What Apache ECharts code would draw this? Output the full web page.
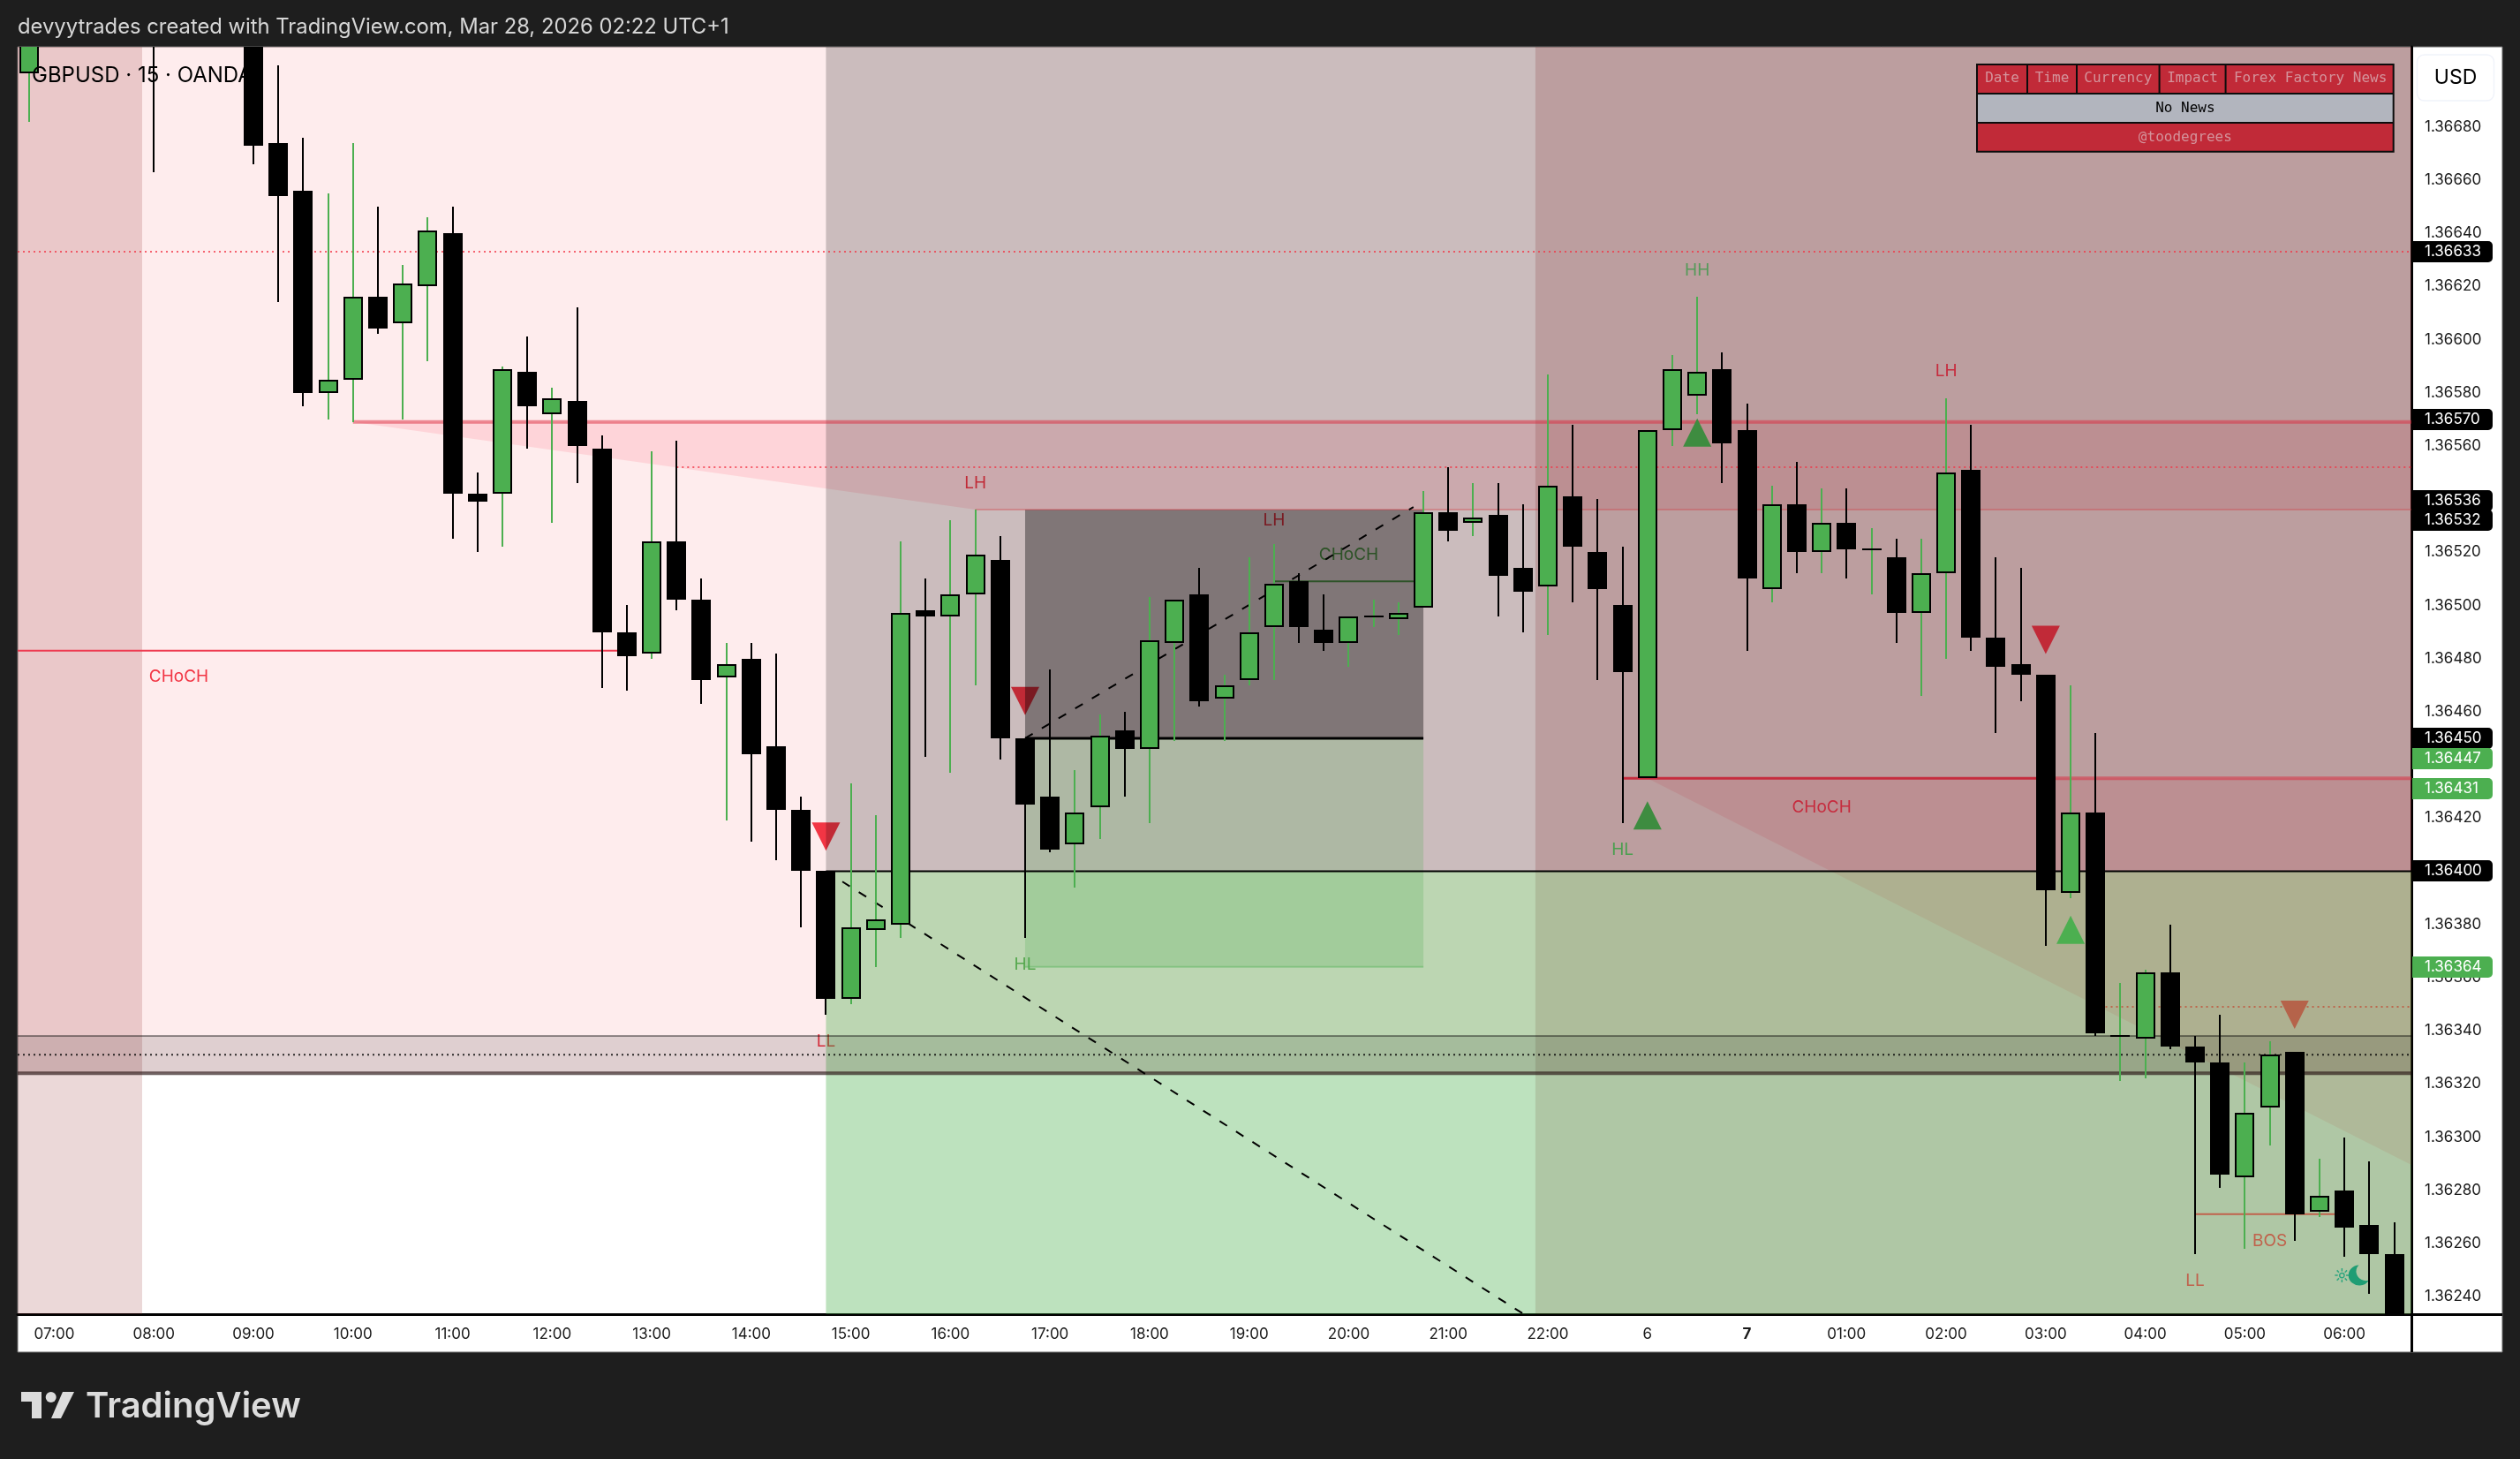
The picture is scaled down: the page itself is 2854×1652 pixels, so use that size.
<!DOCTYPE html>
<html>
<head>
<meta charset="utf-8">
<title>GBPUSD 15</title>
<style>
  html, body { margin: 0; padding: 0; background: #1e1e1e; }
  #chart { width: 2854px; height: 1652px; }
</style>
<script src="https://cdn.jsdelivr.net/npm/echarts@6/dist/echarts.min.js"></script>
</head>
<body>
<div id="chart"></div>
<script>
// bars are 15 min, bar 0 = 06:45. null = bar sits above the visible range
const opens = [1.36700, null, null, null, null, 1.36720, null, null, null, 1.36730,
  1.36674, 1.36656, 1.36580, 1.36585, 1.36616, 1.36606, 1.36620, 1.36640, 1.36542, 1.36542,
  1.36588, 1.36572, 1.36577, 1.36559, 1.36490, 1.36482, 1.36524, 1.36502, 1.36473, 1.36480,
  1.36447, 1.36423, 1.36400, 1.36352, 1.36378, 1.36380, 1.36498, 1.36496, 1.36504, 1.36517,
  1.36450, 1.36428, 1.36410, 1.36424, 1.36453, 1.36446, 1.36486, 1.36504, 1.36465, 1.36472,
  1.36492, 1.36509, 1.36491, 1.36486, 1.36496, 1.36495, 1.36499, 1.36535, 1.36531, 1.36534,
  1.36514, 1.36507, 1.36541, 1.36520, 1.36500, 1.36435, 1.36566, 1.36579, 1.36589, 1.36566,
  1.36506, 1.36538, 1.36520, 1.36531, 1.36521, 1.36518, 1.36497, 1.36512, 1.36551, 1.36488,
  1.36478, 1.36474, 1.36392, 1.36422, 1.36338, 1.36337, 1.36362, 1.36334, 1.36328, 1.36285,
  1.36311, 1.36332, 1.36272, 1.36280, 1.36267, 1.36256];
const highs = [1.36716, null, null, null, null, 1.36725, null, null, null, 1.36735,
  1.36703, 1.36676, 1.36655, 1.36674, 1.36650, 1.36628, 1.36646, 1.36650, 1.36550, 1.36590,
  1.36601, 1.36582, 1.36612, 1.36564, 1.36500, 1.36558, 1.36562, 1.36510, 1.36486, 1.36486,
  1.36482, 1.36428, 1.36400, 1.36433, 1.36421, 1.36524, 1.36510, 1.36532, 1.36536, 1.36526,
  1.36450, 1.36476, 1.36438, 1.36459, 1.36460, 1.36503, 1.36502, 1.36514, 1.36474, 1.36518,
  1.36523, 1.36512, 1.36504, 1.36496, 1.36502, 1.36501, 1.36543, 1.36552, 1.36546, 1.36546,
  1.36538, 1.36587, 1.36568, 1.36540, 1.36522, 1.36566, 1.36594, 1.36616, 1.36595, 1.36576,
  1.36545, 1.36554, 1.36544, 1.36544, 1.36529, 1.36525, 1.36525, 1.36578, 1.36568, 1.36518,
  1.36514, 1.36474, 1.36470, 1.36452, 1.36358, 1.36363, 1.36380, 1.36338, 1.36346, 1.36328,
  1.36336, 1.36332, 1.36292, 1.36300, 1.36291, 1.36268];
const lows = [1.36682, null, null, null, null, 1.36663, null, null, null, 1.36666,
  1.36614, 1.36575, 1.36570, 1.36569, 1.36602, 1.36570, 1.36592, 1.36525, 1.36520, 1.36522,
  1.36559, 1.36531, 1.36546, 1.36469, 1.36468, 1.36480, 1.36498, 1.36463, 1.36419, 1.36411,
  1.36404, 1.36379, 1.36346, 1.36350, 1.36364, 1.36375, 1.36443, 1.36437, 1.36470, 1.36442,
  1.36375, 1.36407, 1.36394, 1.36412, 1.36428, 1.36418, 1.36449, 1.36462, 1.36449, 1.36470,
  1.36472, 1.36486, 1.36483, 1.36477, 1.36492, 1.36489, 1.36499, 1.36524, 1.36526, 1.36496,
  1.36490, 1.36489, 1.36501, 1.36472, 1.36418, 1.36435, 1.36560, 1.36572, 1.36546, 1.36483,
  1.36501, 1.36512, 1.36512, 1.36510, 1.36504, 1.36486, 1.36466, 1.36480, 1.36483, 1.36452,
  1.36464, 1.36372, 1.36390, 1.36338, 1.36321, 1.36322, 1.36333, 1.36256, 1.36281, 1.36258,
  1.36297, 1.36261, 1.36270, 1.36255, 1.36241, 1.36220];
const closes = [1.36712, null, null, null, null, 1.36712, null, null, null, 1.36673,
  1.36654, 1.36580, 1.36585, 1.36616, 1.36604, 1.36621, 1.36641, 1.36542, 1.36539, 1.36589,
  1.36575, 1.36578, 1.36560, 1.36490, 1.36481, 1.36524, 1.36502, 1.36472, 1.36478, 1.36444,
  1.36423, 1.36400, 1.36352, 1.36379, 1.36382, 1.36497, 1.36496, 1.36504, 1.36519, 1.36450,
  1.36425, 1.36408, 1.36422, 1.36451, 1.36446, 1.36487, 1.36502, 1.36464, 1.36470, 1.36490,
  1.36508, 1.36492, 1.36486, 1.36496, 1.36496, 1.36497, 1.36535, 1.36528, 1.36533, 1.36511,
  1.36505, 1.36545, 1.36522, 1.36506, 1.36475, 1.36566, 1.36589, 1.36588, 1.36561, 1.36510,
  1.36538, 1.36520, 1.36531, 1.36521, 1.36521, 1.36497, 1.36512, 1.36550, 1.36488, 1.36477,
  1.36474, 1.36393, 1.36422, 1.36339, 1.36338, 1.36362, 1.36334, 1.36328, 1.36286, 1.36309,
  1.36331, 1.36271, 1.36278, 1.36266, 1.36256, 1.36228];

const priceTicks = [1.3624, 1.3626, 1.3628, 1.3630, 1.3632, 1.3634, 1.3636, 1.3638, 1.3640, 1.3642, 1.3644, 1.3646,
  1.3648, 1.3650, 1.3652, 1.3654, 1.3656, 1.3658, 1.3660, 1.3662, 1.3664, 1.3666, 1.3668];
const timeTickBars = [1, 5, 9, 13, 17, 21, 25, 29, 33, 37, 41, 45, 49, 53, 57, 61, 65, 69, 73, 77, 81, 85, 89, 93];
const timeTickLabels = ['07:00', '08:00', '09:00', '10:00', '11:00', '12:00', '13:00', '14:00', '15:00', '16:00', '17:00', '18:00',
  '19:00', '20:00', '21:00', '22:00', '6', '7', '01:00', '02:00', '03:00', '04:00', '05:00', '06:00'];

const tagPrices = [1.36633, 1.36570, 1.36536, 1.36532, 1.36450, 1.36447, 1.36431, 1.36400, 1.36364];
const tagGreen = [false, false, false, false, false, true, true, false, true];

const signalBars = [32, 40, 65, 67, 81, 82, 91];
const signalPrices = [1.36413, 1.36464, 1.36421, 1.36565, 1.36487, 1.36378, 1.36346];
const signalDown = [true, true, false, false, true, false, true];

const noteBars = [6, 38, 50, 53, 40, 32, 67, 77, 64, 72, 87, 90];
const notePrices = [1.36473, 1.36546, 1.36532, 1.36519, 1.36365, 1.36336, 1.36626, 1.36588, 1.36408, 1.36424, 1.36246, 1.36261];
const noteTexts = ['CHoCH', 'LH', 'LH', 'CHoCH', 'HL', 'LL', 'HH', 'LH', 'HL', 'CHoCH', 'LL', 'BOS'];

const newsHeads = ['Date', 'Time', 'Currency', 'Impact', 'Forex Factory News'];
const newsBody = 'No News';
const newsCredit = '@toodegrees';

// axis window
const xStart = -0.472, xEnd = 95.69;
const priceTop = 1.367101, priceBottom = 1.362334;

const font = 'Inter, "Noto Sans", sans-serif';
const RED = '#f23645', GREEN = '#4caf50';

function zone(x0, x1, p0, p1, color) {
  return [{ xAxis: x0, yAxis: p0, itemStyle: { color: color, borderWidth: 0 } }, { xAxis: x1, yAxis: p1 }];
}

function seg(x0, p0, x1, p1, color, width, dash, z) {
  return {
    type: 'line', silent: true, z: z || 3, symbol: 'none', animation: false,
    data: [[x0, p0], [x1, p1]],
    lineStyle: { color: color, width: width, type: dash || 'solid', cap: 'butt' }
  };
}

function poly(points, color) {
  return {
    type: 'custom', silent: true, z: 1, clip: true, animation: false,
    data: [[points[0][0], points[0][1]]],
    encode: { x: 0, y: 1 },
    renderItem: function (params, api) {
      return {
        type: 'polygon',
        shape: { points: points.map(function (p) { return api.coord(p); }) },
        style: { fill: color }
      };
    }
  };
}

function renderCandle(params, api) {
  const bar = api.value(0), o = api.value(1), h = api.value(2), l = api.value(3), c = api.value(4);
  const x = Math.round(api.coord([bar, o])[0]);
  const yO = Math.round(api.coord([bar, o])[1]), yC = Math.round(api.coord([bar, c])[1]);
  const yH = Math.round(api.coord([bar, h])[1]), yL = Math.round(api.coord([bar, l])[1]);
  const up = c >= o;
  const top = Math.min(yO, yC), bottom = Math.max(yO, yC);
  const children = [{
    type: 'rect',
    shape: { x: x - 1, y: yH, width: 2, height: yL - yH },
    style: { fill: up ? GREEN : '#000' }
  }];
  if (bottom - top < 4) {
    // doji, or a body too thin to show its fill
    children.push({ type: 'rect', shape: { x: x - 11, y: top - 1, width: 22, height: Math.max(2, bottom - top + 1) }, style: { fill: '#000' } });
  } else if (up) {
    children.push({
      type: 'rect',
      shape: { x: x - 10, y: top + 1, width: 20, height: bottom - top - 2 },
      style: { fill: GREEN, stroke: '#000', lineWidth: 2 }
    });
  } else {
    children.push({ type: 'rect', shape: { x: x - 11, y: top, width: 22, height: bottom - top }, style: { fill: '#000' } });
  }
  return { type: 'group', children: children };
}

function noteSeries(indices, colors, z) {
  return {
    type: 'custom', silent: true, z: z, clip: true, animation: false,
    data: indices.map(function (k) { return [noteBars[k], notePrices[k]]; }),
    encode: { x: 0, y: 1 },
    renderItem: function (params, api) {
      const pos = api.coord([api.value(0), api.value(1)]);
      return {
        type: 'text',
        style: {
          text: noteTexts[indices[params.dataIndex]], x: pos[0], y: pos[1],
          fill: colors[params.dataIndex], font: '19px ' + font, textAlign: 'center', textVerticalAlign: 'middle'
        }
      };
    }
  };
}

function signalSeries(indices, colors, z) {
  return {
    type: 'scatter', silent: true, z: z, animation: false,
    symbol: 'triangle', symbolSize: 32,
    data: indices.map(function (k, n) {
      return {
        value: [signalBars[k], signalPrices[k]],
        symbolRotate: signalDown[k] ? 180 : 0,
        itemStyle: { color: colors[n], opacity: 1 }
      };
    })
  };
}

// session sun and moon in the last bars
function iconSeries(bar, price, pathData, size, style) {
  return {
    type: 'custom', silent: true, z: 4, clip: false, animation: false,
    data: [[bar, price]],
    encode: { x: 0, y: 1 },
    renderItem: function (params, api) {
      const pos = api.coord([api.value(0), api.value(1)]);
      return {
        type: 'path',
        shape: { pathData: pathData, x: pos[0] - size / 2, y: pos[1] - size / 2, width: size, height: size, layout: 'cover' },
        style: style
      };
    }
  };
}

const candleRows = [];
opens.forEach(function (o, i) {
  if (o !== null) candleRows.push([i, o, highs[i], lows[i], closes[i]]);
});

const series = [
  // everything the translucent zones lie over
  poly([[13, 1.36569], [xEnd, 1.36569], [xEnd, 1.36536], [38, 1.36536]], 'rgba(255,0,40,0.1)'),
  poly([[65, 1.36435], [xEnd, 1.36435], [xEnd, 1.362895]], 'rgba(255,0,40,0.1)'),
  noteSeries([0, 1, 2, 3, 4, 5], [RED, RED, RED, GREEN, GREEN, RED], 1),
  signalSeries([0, 1], [RED, RED], 1),
  seg(50, 1.36509, 55.7, 1.36509, GREEN, 2, 'solid', 1),

  {
    type: 'line', silent: true, z: 2, data: [], animation: false,
    markArea: {
      silent: true,
      z: 2,
      data: [
        zone(xStart, xEnd, priceTop, 1.36324, 'rgba(242,54,69,0.095)'),
        zone(32, xEnd, priceTop, 1.36400, 'rgba(0,0,0,0.2)'),
        zone(32, xEnd, 1.36400, priceBottom, 'rgba(76,175,80,0.37)'),
        zone(60.5, xEnd, priceTop, 1.36400, 'rgba(130,40,40,0.2)'),
        zone(60.5, xEnd, 1.36400, priceBottom, 'rgba(83,25,0,0.13)'),
        zone(xStart, 4.53, priceTop, priceBottom, 'rgba(155,60,60,0.2)'),
        zone(40, 56, 1.36536, 1.36450, 'rgba(0,0,0,0.37)'),
        zone(40, 56, 1.36450, 1.36364, 'rgba(76,175,80,0.23)'),
        zone(xStart, xEnd, 1.36338, 1.36324, 'rgba(0,0,0,0.12)')
      ]
    }
  },

  seg(xStart, 1.36633, xEnd, 1.36633, 'rgba(242,54,69,0.75)', 2, [2, 4]),
  seg(26, 1.36552, xEnd, 1.36552, 'rgba(242,54,69,0.75)', 2, [2, 4]),
  seg(xStart, 1.36331, xEnd, 1.36331, 'rgba(0,0,0,0.8)', 2, [2, 4]),
  seg(83.4, 1.36349, xEnd, 1.36349, 'rgba(190,95,70,0.9)', 2, [2, 4]),
  seg(xStart, 1.36338, xEnd, 1.36338, 'rgba(0,0,0,0.4)', 2),
  seg(xStart, 1.36324, xEnd, 1.36324, 'rgba(40,20,20,0.65)', 4),
  seg(13, 1.36569, xEnd, 1.36569, 'rgba(220,40,60,0.5)', 4),
  seg(38, 1.36536, xEnd, 1.36536, 'rgba(210,60,70,0.35)', 2),
  seg(xStart, 1.36483, 24, 1.36483, '#ee3b50', 2),
  seg(64, 1.36435, 81, 1.36435, '#c62c3e', 3),
  seg(81, 1.36435, xEnd, 1.36435, 'rgba(220,40,60,0.5)', 4),
  seg(87, 1.36271, 92.6, 1.36271, '#c0624c', 2),
  seg(32, 1.36400, xEnd, 1.36400, '#000', 2),
  seg(40, 1.36450, 56, 1.36450, '#000', 3),
  seg(40, 1.36364, 56, 1.36364, 'rgba(76,175,80,0.4)', 2),
  seg(40, 1.36450, 55.6, 1.36537, '#000', 2, [10, 12]),
  seg(32, 1.36400, 60.1, 1.36233, '#000', 2, [10, 12]),

  noteSeries([6, 7, 8, 9, 10, 11], ['#559a5a', '#c62c3e', '#4a9f4f', '#c62c3e', '#c0624c', '#c0624c'], 4),
  signalSeries([2, 3, 4, 5, 6], ['#3e8c40', '#3e8c40', '#c12a38', GREEN, '#b5634a'], 4),

  iconSeries(92.9, 1.36248,
    'M12 0V5M12 19V24M0 12H5M19 12H24M3.5 3.5L7 7M17 17L20.5 20.5M3.5 20.5L7 17M17 7L20.5 3.5M12 8A4 4 0 1 0 12.01 8Z',
    16, { stroke: '#2fa67f', lineWidth: 1.5, fill: null }),
  iconSeries(93.57, 1.36248,
    'M13 0A12 12 0 1 0 24 18A11 11 0 0 1 13 0Z',
    23, { fill: '#1f9d74' }),

  {
    type: 'custom', silent: true, z: 5, clip: true, animation: false,
    data: candleRows,
    encode: { x: 0, y: [1, 2, 3, 4] },
    renderItem: renderCandle
  },

  {
    // last-value tags on the price scale, two of them pushed aside so they don't overlap
    type: 'custom', silent: true, z: 20, clip: false, animation: false,
    data: tagPrices.map(function (p) { return [xEnd, p]; }),
    encode: { x: 0, y: 1 },
    renderItem: function (params, api) {
      const shift = [0, 0, -10, 0, 0, 14, 0, 0, 0][params.dataIndex];
      const pos = api.coord([api.value(0), api.value(1)]);
      const y = Math.round(pos[1]) + shift;
      return {
        type: 'group',
        children: [{
          type: 'rect',
          shape: { x: 2732, y: y - 12, width: 91, height: 24, r: [0, 5, 5, 0] },
          style: { fill: tagGreen[params.dataIndex] ? GREEN : '#000' }
        }, {
          type: 'text',
          style: {
            text: api.value(1).toFixed(5), x: 2746, y: y, fill: '#fff',
            font: '17px ' + font, textVerticalAlign: 'middle'
          }
        }]
      };
    }
  }
];

// fixed furniture: page frame, table, logo
const graphics = [
  { type: 'rect', z: -10, shape: { x: 20, y: 53, width: 2814, height: 1478 }, style: { fill: '#fff', stroke: '#6b6b6b', lineWidth: 1 } },
  { type: 'rect', z: 6, shape: { x: 2730, y: 1488, width: 3, height: 43 }, style: { fill: '#000' } },
  { type: 'rect', z: 6, shape: { x: 2730, y: 1487, width: 104, height: 3 }, style: { fill: '#000' } },
  { type: 'text', z: 30, style: { text: 'devyytrades created with TradingView.com, Mar 28, 2026 02:22 UTC+1', x: 20, y: 31, fill: '#d6d6d6', font: '23.8px ' + font, textVerticalAlign: 'middle' } },
  { type: 'text', z: 30, style: { text: 'GBPUSD \u00b7 15 \u00b7 OANDA', x: 36, y: 86, fill: '#000', font: '24px ' + font, textVerticalAlign: 'middle' } },
  { type: 'rect', z: 30, shape: { x: 2737.5, y: 62, width: 87, height: 52, r: 8 }, style: { fill: '#fff', stroke: '#f0f3fa', lineWidth: 1.5 } },
  { type: 'text', z: 31, style: { text: 'USD', x: 2781, y: 88, fill: '#000', font: '23px ' + font, textAlign: 'center', textVerticalAlign: 'middle' } },

  // logo
  { type: 'polygon', z: 30, shape: { points: [[24, 1576], [47, 1576], [47, 1606], [36, 1606], [36, 1587], [24, 1587]] }, style: { fill: '#dcdcdc' } },
  { type: 'circle', z: 30, shape: { cx: 57.7, cy: 1582, r: 6 }, style: { fill: '#dcdcdc' } },
  { type: 'polygon', z: 30, shape: { points: [[71, 1576], [84, 1576], [69, 1606], [58, 1606]] }, style: { fill: '#dcdcdc' } },
  { type: 'text', z: 30, style: { text: 'TradingView', x: 97, y: 1593, fill: '#dcdcdc', font: '600 40px ' + font, textVerticalAlign: 'middle' } }
];

// news table
const monoFont = '16px "DejaVu Sans Mono", monospace';
const colEdges = [2238, 2295, 2351, 2444.6, 2519.6, 2711.7];
const rowEdges = [72, 106, 139, 172.7];
graphics.push({ type: 'rect', z: 30, shape: { x: colEdges[0], y: rowEdges[0], width: colEdges[5] - colEdges[0], height: rowEdges[3] - rowEdges[0] }, style: { fill: '#0c0c0c' } });
newsHeads.forEach(function (head, k) {
  graphics.push({ type: 'rect', z: 31, shape: { x: colEdges[k] + 2, y: rowEdges[0] + 2, width: colEdges[k + 1] - colEdges[k] - 2 - (k === 4 ? 2 : 0), height: rowEdges[1] - rowEdges[0] - 3 }, style: { fill: '#c12a38' } });
  graphics.push({ type: 'text', z: 32, style: { text: head, x: (colEdges[k] + colEdges[k + 1]) / 2 + 1, y: (rowEdges[0] + rowEdges[1]) / 2, fill: '#d4939b', font: monoFont, textAlign: 'center', textVerticalAlign: 'middle' } });
});
graphics.push({ type: 'rect', z: 31, shape: { x: colEdges[0] + 2, y: rowEdges[1] + 1, width: colEdges[5] - colEdges[0] - 4, height: rowEdges[2] - rowEdges[1] - 2 }, style: { fill: '#b2b5be' } });
graphics.push({ type: 'text', z: 32, style: { text: newsBody, x: (colEdges[0] + colEdges[5]) / 2, y: (rowEdges[1] + rowEdges[2]) / 2, fill: '#000', font: monoFont, textAlign: 'center', textVerticalAlign: 'middle' } });
graphics.push({ type: 'rect', z: 31, shape: { x: colEdges[0] + 2, y: rowEdges[2] + 1, width: colEdges[5] - colEdges[0] - 4, height: rowEdges[3] - rowEdges[2] - 3 }, style: { fill: '#c12a38' } });
graphics.push({ type: 'text', z: 32, style: { text: newsCredit, x: (colEdges[0] + colEdges[5]) / 2, y: (rowEdges[2] + rowEdges[3]) / 2, fill: '#d4939b', font: monoFont, textAlign: 'center', textVerticalAlign: 'middle' } });

const chart = echarts.init(document.getElementById('chart'), null, { width: 2854, height: 1652 });
chart.setOption({
  animation: false,
  backgroundColor: '#1e1e1e',
  grid: { left: 20, right: 123, top: 53, bottom: 164 },
  graphic: { elements: graphics },
  xAxis: {
    type: 'value', min: xStart, max: xEnd,
    splitLine: { show: false },
    axisLine: { show: true, onZero: false, lineStyle: { color: '#000', width: 3 } },
    axisTick: { show: false },
    axisLabel: {
      customValues: timeTickBars,
      margin: 14,
      color: '#1a1a1a',
      fontFamily: 'Inter, "Noto Sans", sans-serif',
      fontSize: 17,
      showMinLabel: true,
      showMaxLabel: true,
      formatter: function (v) {
        const text = timeTickLabels[timeTickBars.indexOf(v)];
        return text === '7' ? '{b|7}' : text;
      },
      rich: { b: { fontWeight: 700, fontSize: 17, fontFamily: 'Inter, "Noto Sans", sans-serif', color: '#1a1a1a' } }
    }
  },
  yAxis: {
    type: 'value', position: 'right', min: priceBottom, max: priceTop, scale: true,
    splitLine: { show: false },
    axisLine: { show: true, onZero: false, lineStyle: { color: '#000', width: 3 } },
    axisTick: { show: false },
    axisLabel: {
      customValues: priceTicks,
      margin: 15,
      color: '#1a1a1a',
      fontFamily: 'Inter, "Noto Sans", sans-serif',
      fontSize: 17,
      formatter: function (v) { return v.toFixed(5); }
    }
  },
  series: series
});
</script>
</body>
</html>
